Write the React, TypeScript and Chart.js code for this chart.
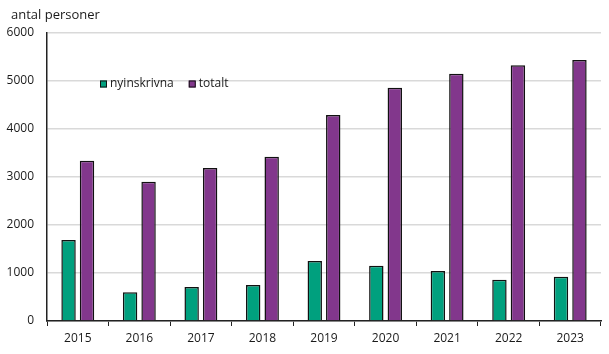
import React, { useEffect, useRef } from "react";
import { Chart, registerables } from "chart.js";

Chart.register(...registerables);

const categories = ["2015", "2016", "2017", "2018", "2019", "2020", "2021", "2022", "2023"];
const nyinskrivna = [1690, 600, 710, 750, 1250, 1150, 1040, 860, 920];
const totalt = [3340, 2900, 3190, 3420, 4290, 4860, 5150, 5330, 5440];
const yTicks = [0, 1000, 2000, 3000, 4000, 5000, 6000];
const seriesNames = ["nyinskrivna", "totalt"];
const yTitle = "antal personer";

const GREEN = "#00A07E";
const PURPLE = "#82378C";
const FONT = "'Open Sans', sans-serif";

export default function App() {
  const ref = useRef<HTMLCanvasElement | null>(null);
  useEffect(() => {
    document.body.style.margin = "0";
    const ctx = ref.current!;
    const overlay = {
      id: "overlay",
      afterDraw(chart: any) {
        const c = chart.ctx;
        const area = chart.chartArea;
        c.save();
        c.fillStyle = "#1a1a1a";
        c.font = `13px ${FONT}`;
        c.textBaseline = "middle";
        c.textAlign = "left";
        c.fillText(yTitle, 11, 15);
        c.font = `12px ${FONT}`;
        const y = chart.scales.y.getPixelForValue(5000) + 3;
        let x = area.left + 53;
        const colors = [GREEN, PURPLE];
        seriesNames.forEach((n, i) => {
          c.fillStyle = colors[i];
          c.fillRect(x, y - 3.5, 7, 7);
          c.strokeStyle = "#111";
          c.lineWidth = 1;
          c.strokeRect(x + 0.5, y - 3.5 + 0.5, 6, 6);
          c.fillStyle = "#1a1a1a";
          c.fillText(n, x + 10, y);
          x += 10 + c.measureText(n).width + 15;
        });
        c.restore();
      },
    };
    const chart = new Chart(ctx, {
      type: "bar",
      data: {
        labels: categories,
        datasets: [
          {
            label: seriesNames[0],
            data: nyinskrivna,
            backgroundColor: GREEN,
            borderColor: "#111",
            borderWidth: 1.5,
            barPercentage: 0.78,
            categoryPercentage: 0.6,
          },
          {
            label: seriesNames[1],
            data: totalt,
            backgroundColor: PURPLE,
            borderColor: "#111",
            borderWidth: 1.5,
            barPercentage: 0.78,
            categoryPercentage: 0.6,
          },
        ],
      },
      options: {
        animation: false,
        responsive: false,
        layout: { padding: { top: 33, right: 8, left: 0, bottom: 0 } },
        plugins: { legend: { display: false }, tooltip: { enabled: false } },
        scales: {
          x: {
            grid: {
              offset: true,
              drawOnChartArea: false,
              drawTicks: true,
              tickLength: 5,
              color: "#222",
              lineWidth: 1,
            },
            border: { color: "#222", width: 1.5 },
            ticks: { color: "#1a1a1a", font: { size: 12, family: FONT }, padding: 5, maxRotation: 0 },
            afterFit: (s: any) => {
              s.height = 33;
            },
          },
          y: {
            min: 0,
            max: 6000,
            afterBuildTicks: (s: any) => {
              s.ticks = yTicks.map((v) => ({ value: v }));
            },
            grid: { color: "#d9d9d9", lineWidth: 1.5, drawTicks: false },
            border: { color: "#222", width: 1.5 },
            ticks: {
              color: "#1a1a1a",
              font: { size: 12, family: FONT },
              padding: 13,
              callback: (v: any) => String(v),
            },
            afterFit: (s: any) => {
              s.width = 47;
            },
          },
        },
      },
      plugins: [overlay],
    });
    return () => chart.destroy();
  }, []);
  return (
    <div style={{ position: "fixed", left: 0, top: 0, width: 609, height: 354, background: "#fff" }}>
      <canvas ref={ref} width={609} height={354} />
    </div>
  );
}
